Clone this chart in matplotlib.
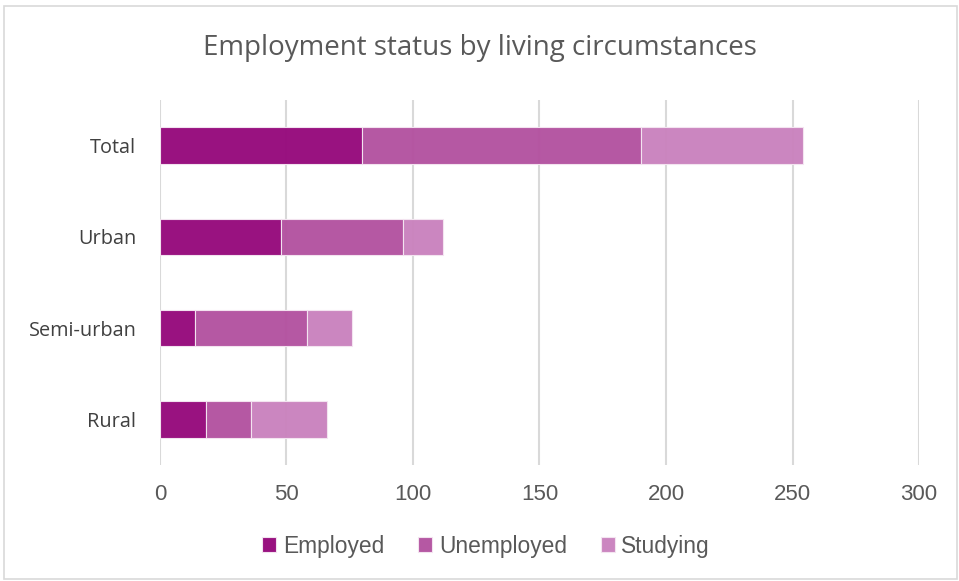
import numpy as np
import matplotlib.pyplot as plt
from matplotlib.patches import Rectangle

categories = ["Rural", "Semi-urban", "Urban", "Total"]
employed = [18, 14, 48, 80]
unemployed = [18, 44, 48, 110]
studying = [30, 18, 16, 64]

series_names = ["Employed", "Unemployed", "Studying"]
colors = ["#960A7C", "#B352A0", "#CA82BE"]

fig = plt.figure(figsize=(9.59, 5.81), dpi=100)
ax = fig.add_axes([0.1668, 0.1997, 0.7915, 0.628])

y = np.arange(len(categories))
left = np.zeros(len(categories))
for vals, name, c in zip([employed, unemployed, studying], series_names, colors):
    ax.barh(y, vals, left=left, height=0.4, color=c, alpha=0.97,
            edgecolor="#f4e6f1", linewidth=0.8, label=name, zorder=2)
    left += np.array(vals)

ax.set_xlim(0, 300)
ax.set_ylim(-0.5, 3.5)
ax.set_xticks(np.arange(0, 301, 50))
ax.set_yticks(y)
ax.set_yticklabels(categories, fontfamily="Open Sans", fontsize=14.3, color="#404040")
ax.tick_params(axis="x", length=0, pad=14, labelsize=16, labelcolor="#595959")
ax.tick_params(axis="y", length=0, pad=17)
for lbl in ax.get_xticklabels():
    lbl.set_fontfamily("Liberation Sans")

ax.grid(axis="x", color="#d9d9d9", linewidth=1.5, zorder=1)
ax.set_axisbelow(True)
for s in ax.spines.values():
    s.set_visible(False)

fig.suptitle("Employment status by living circumstances", y=0.917, va="center",
             fontfamily="Open Sans", fontsize=20, color="#595959")

leg = fig.legend(loc="center", bbox_to_anchor=(0.507, 0.06), ncol=3, frameon=False,
                 prop={"family": "Liberation Sans", "size": 16.4},
                 handlelength=0.6, handleheight=0.6, handletextpad=0.3,
                 columnspacing=1.5)
for t in leg.get_texts():
    t.set_color("#595959")

fig.patches.append(Rectangle((0.004, 0.003), 0.994, 0.987, transform=fig.transFigure,
                             fill=False, edgecolor="#d9d9d9", linewidth=1.2))

fig.savefig("out.png", dpi=100)
